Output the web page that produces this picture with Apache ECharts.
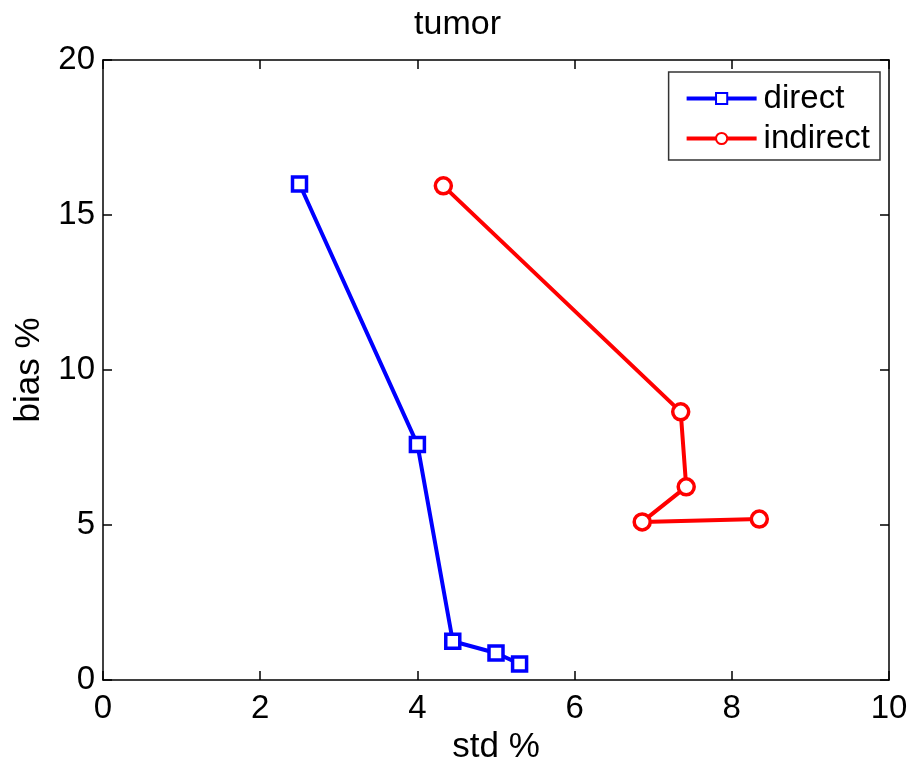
<!DOCTYPE html>
<html><head><meta charset="utf-8">
<script src="https://cdn.jsdelivr.net/npm/echarts@6/dist/echarts.min.js"></script>
<style>html,body{margin:0;padding:0;background:#fff}#c{width:915px;height:766px}</style>
</head><body><div id="c"></div>
<script>
const directStd = [2.5, 4.0, 4.45, 5.0, 5.3];
const directBias = [16.0, 7.6, 1.25, 0.87, 0.52];
const indirectStd = [4.33, 7.35, 7.42, 6.86, 8.35];
const indirectBias = [15.94, 8.65, 6.23, 5.10, 5.19];
const xTicks = [0, 2, 4, 6, 8, 10];
const yTicks = [0, 5, 10, 15, 20];

const font = '"Liberation Sans", Arial, sans-serif';
const chart = echarts.init(document.getElementById('c'));
const zip = (a, b) => a.map((v, i) => [v, b[i]]);
const axisBase = {
  axisLine: {show: true, onZero: false, lineStyle: {color: '#000', width: 1.5}},
  axisTick: {show: true, inside: true, length: 9, lineStyle: {color: '#000', width: 1.5}},
  splitLine: {show: false}
};
const xMin = xTicks[0], xMax = xTicks[xTicks.length - 1], xInt = xTicks[1] - xTicks[0];
const yMin = yTicks[0], yMax = yTicks[yTicks.length - 1], yInt = yTicks[1] - yTicks[0];
chart.setOption({
  animation: false,
  backgroundColor: '#fff',
  title: {text: 'tumor', left: 'center', top: 3, textStyle: {fontFamily: font, fontSize: 34, fontWeight: 'normal', color: '#000'}},
  grid: {left: 103, right: 26, top: 60, bottom: 86, containLabel: false, outerBoundsMode: 'none'},
  legend: {
    right: 35, top: 72, orient: 'vertical',
    borderColor: '#333', borderWidth: 1.5, backgroundColor: '#fff',
    padding: [10, 10, 5, 16], itemGap: 7, itemWidth: 70, itemHeight: 14,
    textStyle: {fontFamily: font, fontSize: 33, color: '#000', padding: [0, 0, 0, 2]},
    lineStyle: {width: 4},
    data: ['direct', 'indirect']
  },
  xAxis: [
    Object.assign({}, axisBase, {type: 'value', min: xMin, max: xMax, interval: xInt, position: 'bottom',
      name: 'std %', nameLocation: 'middle', nameGap: 48,
      nameTextStyle: {fontFamily: font, fontSize: 35, color: '#000'},
      axisLabel: {fontFamily: font, fontSize: 33, color: '#000', margin: 12}}),
    Object.assign({}, axisBase, {type: 'value', min: xMin, max: xMax, interval: xInt, position: 'top', axisLabel: {show: false}})
  ],
  yAxis: [
    Object.assign({}, axisBase, {type: 'value', min: yMin, max: yMax, interval: yInt, position: 'left',
      name: 'bias %', nameLocation: 'middle', nameGap: 56, nameRotate: 90,
      nameTextStyle: {fontFamily: font, fontSize: 35, color: '#000'},
      axisLabel: {fontFamily: font, fontSize: 33, color: '#000', margin: 8}}),
    Object.assign({}, axisBase, {type: 'value', min: yMin, max: yMax, interval: yInt, position: 'right', axisLabel: {show: false}})
  ],
  series: [
    {name: 'direct', type: 'line', data: zip(directStd, directBias),
      symbol: 'rect', symbolSize: 14, showAllSymbol: true,
      lineStyle: {color: '#0000ff', width: 4},
      itemStyle: {color: '#ffffff', borderColor: '#0000ff', borderWidth: 3.5}},
    {name: 'indirect', type: 'line', data: zip(indirectStd, indirectBias),
      symbol: 'circle', symbolSize: 16, showAllSymbol: true,
      lineStyle: {color: '#ff0000', width: 4},
      itemStyle: {color: '#ffffff', borderColor: '#ff0000', borderWidth: 3.5}},
    {name: 'frame', type: 'line', xAxisIndex: 1, yAxisIndex: 1, data: [[xMin, yMin]],
      symbol: 'none', lineStyle: {opacity: 0}, silent: true}
  ]
});
</script></body></html>
